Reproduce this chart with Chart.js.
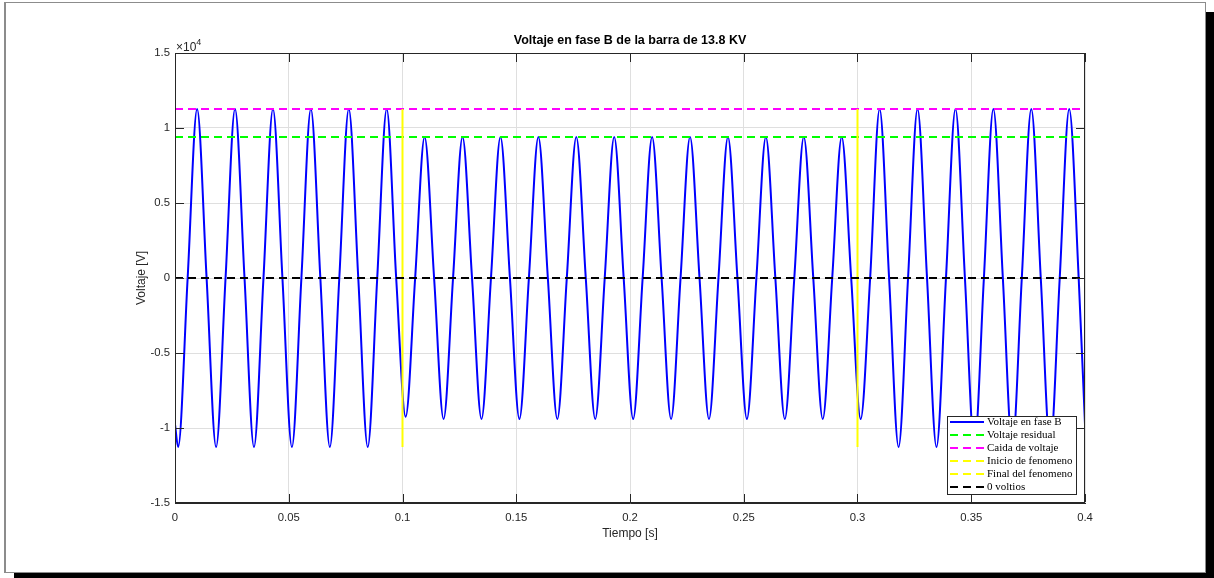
<!DOCTYPE html>
<html>
<head>
<meta charset="utf-8">
<title>Voltaje en fase B</title>
<script src="https://cdn.jsdelivr.net/npm/chart.js@4/dist/chart.umd.min.js"></script>
<style>
  html, body { margin: 0; padding: 0; background: #fff; }
  body { width: 1214px; height: 578px; overflow: hidden; position: relative; }
  /* marco de la figura con sombra negra */
  #marco {
    position: absolute; left: 4px; top: 2px; width: 1199px; height: 569px;
    background: #fff; border: 1px solid #8c8c8c; border-left: 2px solid #8c8c8c;
    box-shadow: 10px 10px 0 #000;
  }
  #grafico { position: absolute; left: 0; top: 0; }
</style>
</head>
<body>
<div id="marco"></div>
<canvas id="grafico" width="1214" height="578"></canvas>
<script>
// Tiempo [s] de los valles, cruces por cero y picos
const tiempo = [
  0,
  0.00139, 0.00556, 0.00972, 0.01389, 0.01806, 0.02222, 0.02639, 0.03056,
  0.03472, 0.03889, 0.04306, 0.04722, 0.05139, 0.05556, 0.05972, 0.06389,
  0.06806, 0.07222, 0.07639, 0.08056, 0.08472, 0.08889, 0.09306, 0.09722,
  0.10139, 0.10556, 0.10972, 0.11389, 0.11806, 0.12222, 0.12639, 0.13056,
  0.13472, 0.13889, 0.14306, 0.14722, 0.15139, 0.15556, 0.15972, 0.16389,
  0.16806, 0.17222, 0.17639, 0.18056, 0.18472, 0.18889, 0.19306, 0.19722,
  0.20139, 0.20556, 0.20972, 0.21389, 0.21806, 0.22222, 0.22639, 0.23056,
  0.23472, 0.23889, 0.24306, 0.24722, 0.25139, 0.25556, 0.25972, 0.26389,
  0.26806, 0.27222, 0.27639, 0.28056, 0.28472, 0.28889, 0.29306, 0.29722,
  0.30139, 0.30556, 0.30972, 0.31389, 0.31806, 0.32222, 0.32639, 0.33056,
  0.33472, 0.33889, 0.34306, 0.34722, 0.35139, 0.35556, 0.35972, 0.36389,
  0.36806, 0.37222, 0.37639, 0.38056, 0.38472, 0.38889, 0.39306, 0.39722,
  0.4
];

// Voltaje en fase B [V] en esos mismos instantes
const voltaje = [
  -9758,
  -11268, 0, 11268, 0, -11268, 0, 11268, 0,
  -11268, 0, 11268, 0, -11268, 0, 11268, 0,
  -11268, 0, 11268, 0, -11268, 0, 11268, 0,
  -9250, 0, 9400, 0, -9400, 0, 9400, 0,
  -9400, 0, 9400, 0, -9400, 0, 9400, 0,
  -9400, 0, 9400, 0, -9400, 0, 9400, 0,
  -9400, 0, 9400, 0, -9400, 0, 9400, 0,
  -9400, 0, 9400, 0, -9400, 0, 9400, 0,
  -9400, 0, 9400, 0, -9400, 0, 9400, 0,
  -9400, 0, 11268, 0, -11268, 0, 11268, 0,
  -11268, 0, 11268, 0, -11268, 0, 11268, 0,
  -11268, 0, 11268, 0, -11268, 0, 11268, 0,
  -9758
];

// Líneas de referencia
const rangoTiempo = [0, 0.4];
const voltajeResidual = 9400;
const caidaVoltaje = 11268;
const inicioFenomeno = 0.1;
const finalFenomeno = 0.3;
const extremoFenomeno = [-11268, 11268];

const etiquetas = ['Voltaje en fase B', 'Voltaje residual', 'Caida de voltaje',
  'Inicio de fenomeno', 'Final del fenomeno', '0 voltios'];

// Ticks de los ejes
const ticksTiempo = [0, 0.05, 0.1, 0.15, 0.2, 0.25, 0.3, 0.35, 0.4];
const ticksVoltaje = [-15000, -10000, -5000, 0, 5000, 10000, 15000];

const fuente = "'Liberation Sans', Arial, Helvetica, sans-serif";
const fuenteLeyenda = "'Liberation Serif', 'Times New Roman', serif";
const colorEje = '#262626';
const guion = [8, 5];

function horizontal(v) {
  return rangoTiempo.map(t => ({ x: t, y: v }));
}
function vertical(t) {
  return extremoFenomeno.map(v => ({ x: t, y: v }));
}

// Ejes estilo MATLAB: caja, marcas hacia dentro, exponente y leyenda
const ejesMatlab = {
  id: 'ejesMatlab',
  afterDatasetsDraw(chart) {
    const { ctx, chartArea: a, scales } = chart;
    const largo = 9;
    ctx.save();
    ctx.strokeStyle = colorEje;
    ctx.lineWidth = 1;
    ctx.strokeRect(Math.round(a.left) + 0.5, Math.round(a.top) + 0.5,
      Math.round(a.right - a.left) - 1, Math.round(a.bottom - a.top) - 1);

    ctx.beginPath();
    ticksTiempo.forEach(t => {
      const x = Math.round(scales.x.getPixelForValue(t)) + 0.5;
      ctx.moveTo(x, a.bottom - 1); ctx.lineTo(x, a.bottom - largo);
      ctx.moveTo(x, a.top); ctx.lineTo(x, a.top + largo);
    });
    ticksVoltaje.forEach(v => {
      const y = Math.round(scales.y.getPixelForValue(v)) + 0.5;
      ctx.moveTo(a.left, y); ctx.lineTo(a.left + largo, y);
      ctx.moveTo(a.right - 1, y); ctx.lineTo(a.right - largo, y);
    });
    ctx.stroke();

    // multiplicador x10^4
    ctx.fillStyle = colorEje;
    ctx.textBaseline = 'alphabetic';
    ctx.textAlign = 'left';
    ctx.font = '12px ' + fuente;
    ctx.fillText('\u00d710', a.left + 1, a.top - 2);
    const w = ctx.measureText('\u00d710').width;
    ctx.font = '9px ' + fuente;
    ctx.fillText('4', a.left + 1 + w, a.top - 8);

    // leyenda
    const lx = a.right - 138, ly = a.bottom - 87, lw = 129, lh = 78;
    ctx.fillStyle = '#fff';
    ctx.fillRect(lx, ly, lw, lh);
    ctx.strokeStyle = colorEje;
    ctx.strokeRect(lx + 0.5, ly + 0.5, lw, lh);
    ctx.font = '11px ' + fuenteLeyenda;
    ctx.textBaseline = 'middle';
    chart.data.datasets.forEach((ds, i) => {
      const y = ly + 6 + 13 * i;
      ctx.beginPath();
      ctx.strokeStyle = ds.borderColor;
      ctx.lineWidth = 2;
      ctx.setLineDash(ds.guionLeyenda || []);
      ctx.moveTo(lx + 3, y);
      ctx.lineTo(lx + 37, y);
      ctx.stroke();
      ctx.setLineDash([]);
      ctx.fillStyle = '#000';
      ctx.fillText(ds.label, lx + 40, y);
    });
    ctx.restore();
  }
};

const ctx = document.getElementById('grafico').getContext('2d');
new Chart(ctx, {
  type: 'line',
  data: {
    datasets: [
      {
        label: etiquetas[0],
        data: tiempo.map((t, i) => ({ x: t, y: voltaje[i] })),
        borderColor: '#0000ff', borderWidth: 2,
        cubicInterpolationMode: 'monotone', order: 6
      },
      {
        label: etiquetas[1], data: horizontal(voltajeResidual),
        borderColor: '#00ff00', borderWidth: 2, borderDash: guion, guionLeyenda: guion, order: 5
      },
      {
        label: etiquetas[2], data: horizontal(caidaVoltaje),
        borderColor: '#ff00ff', borderWidth: 2, borderDash: guion, guionLeyenda: guion, order: 4
      },
      {
        label: etiquetas[3], data: vertical(inicioFenomeno),
        borderColor: '#ffff00', borderWidth: 2, guionLeyenda: guion, order: 3
      },
      {
        label: etiquetas[4], data: vertical(finalFenomeno),
        borderColor: '#ffff00', borderWidth: 2, guionLeyenda: guion, order: 2
      },
      {
        label: etiquetas[5], data: horizontal(0),
        borderColor: '#000000', borderWidth: 2, borderDash: guion, guionLeyenda: guion, order: 1
      }
    ]
  },
  options: {
    responsive: false,
    animation: false,
    events: [],
    elements: { point: { radius: 0 } },
    layout: { padding: { left: 0, right: 129, top: 0, bottom: 0 } },
    plugins: {
      legend: { display: false },
      tooltip: { enabled: false },
      title: {
        display: true,
        fullSize: false,
        text: 'Voltaje en fase B de la barra de 13.8 KV',
        color: '#000',
        font: { family: fuente, size: 12.5, weight: 'bold' },
        padding: { top: 33, bottom: 5 }
      }
    },
    scales: {
      x: {
        type: 'linear', min: 0, max: 0.4,
        afterBuildTicks: s => { s.ticks = ticksTiempo.map(v => ({ value: v })); },
        ticks: {
          color: colorEje, font: { family: fuente, size: 11.3 }, padding: 8,
          maxRotation: 0, autoSkip: false,
          callback: v => String(Math.round(v * 100) / 100)
        },
        grid: { color: '#dfdfdf', drawTicks: false },
        border: { color: colorEje },
        title: {
          display: true, text: 'Tiempo [s]', color: colorEje,
          font: { family: fuente, size: 12 }, padding: { top: 0, bottom: 36.8 }
        },
        afterFit: s => { s.height = 75; }
      },
      y: {
        type: 'linear', min: -15000, max: 15000,
        afterBuildTicks: s => { s.ticks = ticksVoltaje.map(v => ({ value: v })); },
        ticks: {
          color: colorEje, font: { family: fuente, size: 11.3 }, padding: 5,
          callback: v => String(v / 10000)
        },
        grid: { color: '#dfdfdf', drawTicks: false },
        border: { color: colorEje },
        title: {
          display: true, text: 'Voltaje [V]', color: colorEje,
          font: { family: fuente, size: 12 }, padding: { top: 134, bottom: 0 }
        },
        afterFit: s => { s.width = 175; }
      }
    }
  },
  plugins: [ejesMatlab]
});
</script>
</body>
</html>
